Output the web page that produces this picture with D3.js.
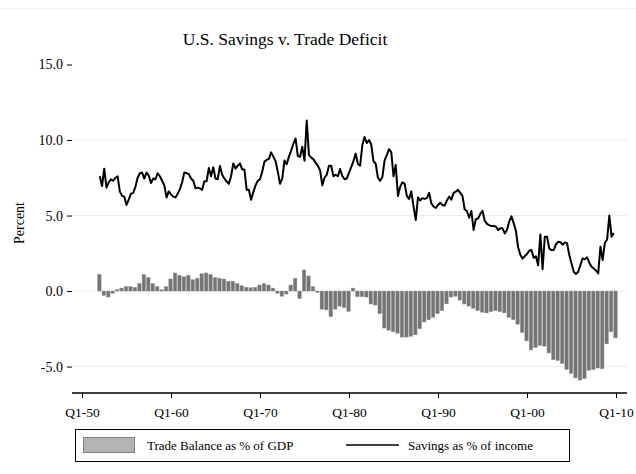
<!DOCTYPE html>
<html>
<head>
<meta charset="utf-8">
<script src="https://cdn.jsdelivr.net/npm/d3@7"></script>
<style>
  body { margin: 0; background: #fff; }
  svg text { font-family: "Liberation Serif", "DejaVu Serif", serif; fill: #000; }
</style>
</head>
<body>
<div id="chart-area"></div>
<script>

let width = 636,
    height = 474;

// Savings as % of income, quarterly, 1952 Q1 - 2009 Q4
let savings = [
  7.6, 6.95, 8.1, 6.85,   7.2, 7.4, 7.3, 7.5,     7.6, 6.6, 6.3, 6.25,    5.7, 6.05, 6.45, 6.5,
  6.9, 7.5, 7.8, 7.85,    7.45, 7.85, 7.65, 7.15, 7.45, 7.4, 7.8, 7.6,    7.3, 7.0, 6.2, 6.6,
  6.4, 6.25, 6.2, 6.45,   6.75, 7.2, 7.85, 7.8,   7.75, 7.45, 7.3, 6.8,   6.85, 6.8, 6.7, 7.27,
  7.27, 8.15, 7.6, 8.2,   7.45, 7.4, 8.28, 7.7,   7.45, 7.25, 7.1, 7.6,   8.45, 8.1, 8.3, 8.45,
  8.05, 8.05, 6.7, 6.7,   6.05, 6.55, 7.0, 7.3,   7.4, 7.9, 8.57, 8.68,   8.75, 9.18, 8.9, 8.6,
  7.9, 7.1, 7.45, 8.65,   8.4, 8.9, 9.3, 9.75,    10.1, 8.94, 8.88, 9.55, 8.63, 11.3, 9.0, 8.85,
  8.72, 8.5, 8.28, 8.0,   7.0, 7.5, 7.7, 8.3,     8.3, 7.6, 7.7, 7.6,     8.08, 7.62, 7.4, 7.45,
  7.84, 8.2, 8.6, 9.1,    8.41, 8.3, 9.67, 10.2,  9.8, 10.0, 9.7, 8.6,    8.43, 7.5, 7.3, 7.55,
  8.65, 9.0, 9.4, 9.2,    7.6, 8.35, 6.3, 6.9,    7.2, 7.1, 6.3, 6.1,     6.6, 5.6, 4.7, 6.2,
  6.0, 6.15, 6.1, 6.15,   6.5, 5.8, 5.6, 5.5,     5.7, 5.85, 5.7, 5.65,   6.0, 6.25, 6.05, 6.5,
  6.58, 6.7, 6.5, 6.3,    5.4, 5.3, 4.85, 5.3,    4.05, 4.75, 4.8, 5.1,   5.32, 4.66, 4.45, 4.37,
  4.3, 4.3, 4.28, 4.04,   4.15, 4.15, 3.82, 4.04, 4.6, 4.95, 4.5, 4.0,    2.9, 2.4, 2.15, 2.3,
  2.45, 2.67, 2.72, 2.2,  2.3, 1.7, 3.75, 1.45,   3.6, 3.6, 2.82, 2.71,   2.71, 3.1, 3.26, 3.24,
  3.07, 3.22, 3.17, 2.38, 1.83, 1.28, 1.12, 1.28, 1.72, 2.16, 2.1, 2.23,  1.88, 1.61, 1.5, 1.35,
  1.17, 2.94, 2.05, 3.2,  3.4, 5.0, 3.6, 3.84
];

// Trade balance as % of GDP, half-yearly, 1952 H1 - 2010 H1
let tradeBalance = [
  1.1, -0.3, -0.4, -0.15, 0.1, 0.2, 0.3, 0.3, 0.25, 0.5,
  1.1, 0.9, 0.5, 0.3, 0.1, 0.3, 0.8, 1.2, 1.05, 0.95,
  1.05, 0.75, 0.85, 1.15, 1.2, 1.1, 0.9, 0.85, 0.8, 0.65,
  0.65, 0.5, 0.35, 0.25, 0.22, 0.25, 0.4, 0.5, 0.4, 0.2,
  -0.15, -0.35, -0.2, 0.4, 0.85, -0.5, 1.4, 1.0, 0.3, -0.1,
  -1.2, -1.25, -1.7, -1.2, -1.0, -1.1, -1.35, 0.2, -0.38, -0.38,
  -0.4, -0.86, -0.93, -1.5, -2.45, -2.6, -2.7, -2.8, -3.05, -3.05,
  -3.0, -2.9, -2.5, -2.05, -1.9, -1.74, -1.5, -1.3, -0.85, -0.4,
  -0.35, -0.6, -0.86, -1.0, -1.15, -1.3, -1.4, -1.45, -1.37, -1.3,
  -1.37, -1.45, -1.75, -1.9, -2.2, -2.75, -3.3, -3.9, -3.75, -3.6,
  -3.65, -4.1, -4.55, -4.6, -4.8, -5.2, -5.45, -5.75, -5.9, -5.8,
  -5.25, -5.2, -5.1, -5.15, -3.5, -2.7, -3.1
];

let xTicks = [1950, 1960, 1970, 1980, 1990, 2000, 2010];
let xTickLabels = ["Q1-50", "Q1-60", "Q1-70", "Q1-80", "Q1-90", "Q1-00", "Q1-10"];
let yTicks = [-5, 0, 5, 10, 15];
let gridTicks = [-5, 0, 5, 10];
let legendLabels = ["Trade Balance as % of GDP", "Savings as % of income"];

let svg = d3.select("#chart-area").append("svg")
    .attr("width", width)
    .attr("height", height);

let x = d3.scaleLinear().domain([1950, 2010]).range([82, 616]);
let y = d3.scaleLinear().domain([-6.75, 15]).range([393, 64.5]);

// faint top rule
svg.append("line")
    .attr("x1", 0).attr("x2", width)
    .attr("y1", 8.5).attr("y2", 8.5)
    .style("stroke", "#eef1f1");

// gridlines
svg.selectAll(".grid")
    .data(gridTicks)
    .enter().append("line")
    .attr("class", "grid")
    .attr("x1", 72).attr("x2", 627)
    .attr("y1", d => y(d)).attr("y2", d => y(d))
    .style("stroke", "#e6eeee")
    .style("stroke-width", 1);

// bars
let barW = x(1950.5) - x(1950);
svg.selectAll(".bar")
    .data(tradeBalance)
    .enter().append("rect")
    .attr("class", "bar")
    .attr("x", (d, i) => x(1952 + i / 2) - barW / 2)
    .attr("width", barW - 0.9)
    .attr("y", d => Math.min(y(d), y(0)))
    .attr("height", d => Math.abs(y(d) - y(0)))
    .attr("fill", "#747474")
    .attr("stroke", "#9a9a9a")
    .attr("stroke-width", 0.4);

// savings line
let line = d3.line()
    .x((d, i) => x(1952 + i / 4))
    .y(d => y(d));

svg.append("path")
    .datum(savings)
    .attr("d", line)
    .attr("fill", "none")
    .attr("stroke", "#000")
    .attr("stroke-width", 2)
    .attr("stroke-linejoin", "round");

// y axis
let yAxis = svg.append("g")
    .attr("transform", "translate(72,0)")
    .call(d3.axisLeft(y).tickValues(yTicks).tickSize(5).tickPadding(4)
        .tickFormat(d => d.toFixed(1)));
yAxis.select(".domain").remove();
yAxis.selectAll("text").style("font-size", "14px");

// x axis
let xAxis = svg.append("g")
    .attr("transform", "translate(0,393)")
    .call(d3.axisBottom(x).tickValues(xTicks).tickSize(5).tickPadding(9)
        .tickFormat((d, i) => xTickLabels[i]));
xAxis.select(".domain").remove();
xAxis.selectAll("text").style("font-size", "13.5px");
xAxis.append("line")
    .attr("x1", 72).attr("x2", 627)
    .attr("y1", 0).attr("y2", 0)
    .style("stroke", "#000")
    .style("stroke-width", 1.5);

// title
svg.append("text")
    .attr("x", 285).attr("y", 45)
    .attr("text-anchor", "middle")
    .style("font-size", "17.5px")
    .text("U.S. Savings v. Trade Deficit");

svg.append("text")
    .attr("transform", "translate(24,223) rotate(-90)")
    .attr("text-anchor", "middle")
    .style("font-size", "14px")
    .text("Percent");

// legend
let legend = svg.append("g");
legend.append("rect")
    .attr("x", 75.5).attr("y", 429.5)
    .attr("width", 494).attr("height", 32)
    .attr("fill", "none")
    .attr("stroke", "#000");
legend.append("rect")
    .attr("x", 83.5).attr("y", 437.5)
    .attr("width", 51).attr("height", 15)
    .attr("fill", "#b3b3b3")
    .attr("stroke", "#808080");
legend.append("text")
    .attr("x", 147).attr("y", 449.5)
    .style("font-size", "13px")
    .text(legendLabels[0]);
legend.append("line")
    .attr("x1", 346).attr("x2", 399)
    .attr("y1", 445).attr("y2", 445)
    .attr("stroke", "#000")
    .attr("stroke-width", 1.5);
legend.append("text")
    .attr("x", 408).attr("y", 449.5)
    .style("font-size", "13px")
    .text(legendLabels[1]);

</script>
</body>
</html>
